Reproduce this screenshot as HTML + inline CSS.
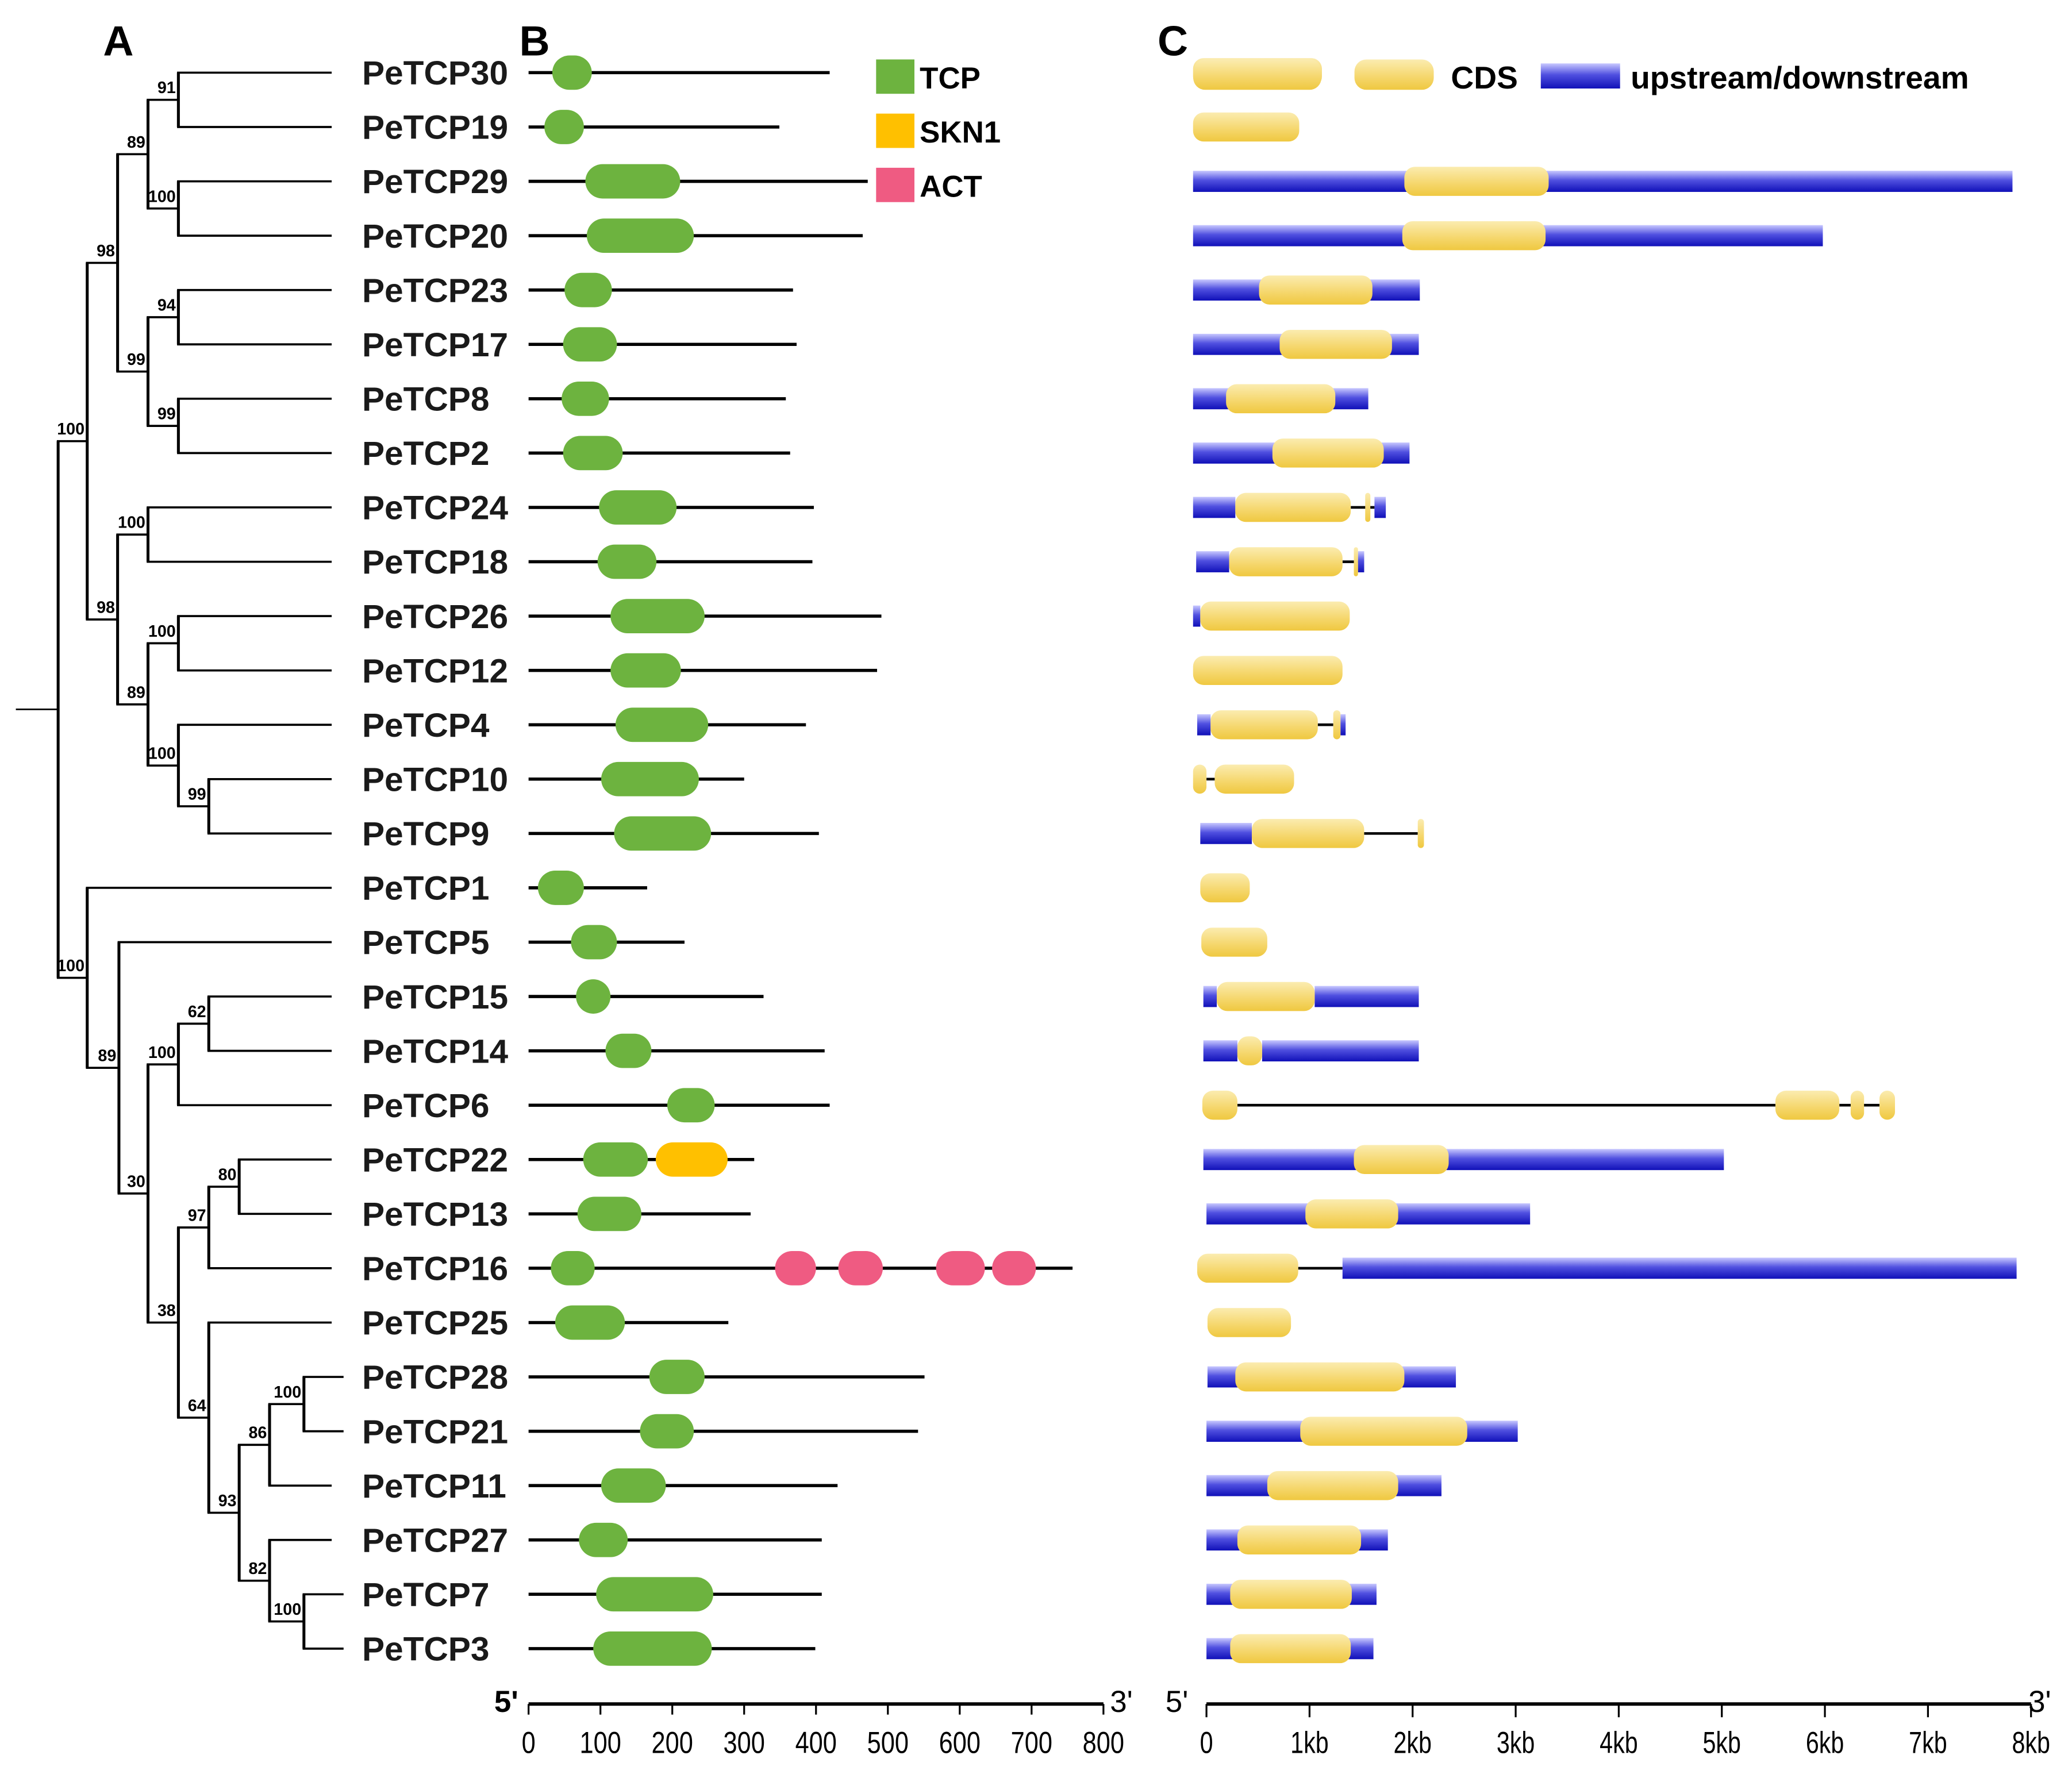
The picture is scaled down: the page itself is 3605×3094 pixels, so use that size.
<!DOCTYPE html>
<html><head><meta charset="utf-8"><title>PeTCP phylogeny, domains and gene structure</title>
<style>html,body{margin:0;padding:0;background:#fff}svg{display:block}text{font-family:"Liberation Sans",sans-serif}</style></head>
<body>
<svg id="fig" width="3605" height="3094" viewBox="0 0 1568 1346" preserveAspectRatio="none" xmlns="http://www.w3.org/2000/svg">
<defs>
<linearGradient id="gBlue" x1="0" y1="0" x2="0" y2="1"><stop offset="0" stop-color="#c8c8ff"/><stop offset="0.45" stop-color="#5050e0"/><stop offset="1" stop-color="#1010b8"/></linearGradient>
<linearGradient id="gYel" x1="0" y1="0" x2="0" y2="1"><stop offset="0" stop-color="#fbecb0"/><stop offset="0.6" stop-color="#f5d66a"/><stop offset="1" stop-color="#efc840"/></linearGradient>
</defs>
<g id="tree"></g>
<g id="labels"></g>
<g id="panelB"></g>
<g id="panelC"></g>
<text x="78" y="42" font-size="32" font-weight="bold">A</text>
<text x="393" y="42" font-size="32" font-weight="bold">B</text>
<text x="876" y="42" font-size="32" font-weight="bold">C</text>
<g>
<rect x="663" y="45" width="29" height="26" fill="#6db33f"/>
<text x="696" y="67" font-size="23" font-weight="bold">TCP</text>
<rect x="663" y="86" width="29" height="26" fill="#ffc000"/>
<text x="696" y="108" font-size="23" font-weight="bold">SKN1</text>
<rect x="663" y="127" width="29" height="26" fill="#ef5b82"/>
<text x="696" y="149" font-size="23" font-weight="bold">ACT</text>
</g>
<g>
<rect x="903" y="45" width="97" height="23" rx="9" fill="url(#gYel)"/>
<rect x="1025" y="45" width="60" height="23" rx="9" fill="url(#gYel)"/>
<text x="1098" y="67" font-size="24" font-weight="bold">CDS</text>
<rect x="1166" y="48" width="60" height="19" fill="url(#gBlue)"/>
<text x="1234" y="67" font-size="24" font-weight="bold">upstream/downstream</text>
</g>
</svg>
<script>
const NS="http://www.w3.org/2000/svg";
const genes=["PeTCP30","PeTCP19","PeTCP29","PeTCP20","PeTCP23","PeTCP17","PeTCP8","PeTCP2","PeTCP24","PeTCP18","PeTCP26","PeTCP12","PeTCP4","PeTCP10","PeTCP9","PeTCP1","PeTCP5","PeTCP15","PeTCP14","PeTCP6","PeTCP22","PeTCP13","PeTCP16","PeTCP25","PeTCP28","PeTCP21","PeTCP11","PeTCP27","PeTCP7","PeTCP3"];
const proteinLength=[419,349,472,465,368,373,358,364,397,395,491,485,386,300,404,165,217,327,412,419,314,309,757,278,551,542,430,408,408,399];
const tcpStart=[33,22,79,81,50,48,46,48,98,96,114,114,121,101,119,13,59,66,107,193,76,68,31,37,168,155,101,70,94,90];
const tcpEnd=[88,77,211,230,116,123,112,131,206,178,245,212,250,237,254,77,123,114,171,259,166,157,92,134,245,230,191,138,257,255];
const skn1Domains=[[20,177,277]];
const actDomains=[[22,343,400],[22,431,493],[22,567,635],[22,645,706]];
const proteinTicks=[0,100,200,300,400,500,600,700,800];
// gene structure: [type, startKb, endKb]  B=upstream/downstream, Y=CDS, L=intron line
const structures=[
[["Y",-0.13,1.12]],
[["Y",-0.13,0.90]],
[["B",-0.13,7.82],["Y",1.92,3.32]],
[["B",-0.13,5.98],["Y",1.90,3.29]],
[["B",-0.13,2.07],["Y",0.51,1.61]],
[["B",-0.13,2.06],["Y",0.71,1.80]],
[["B",-0.13,1.57],["Y",0.19,1.25]],
[["B",-0.13,1.97],["Y",0.64,1.72]],
[["B",-0.13,0.28],["Y",0.28,1.40],["L",1.40,1.63],["Y",1.54,1.59],["B",1.63,1.74]],
[["B",-0.10,0.22],["Y",0.22,1.32],["L",1.32,1.47],["Y",1.43,1.47],["B",1.47,1.53]],
[["B",-0.13,-0.06],["Y",-0.06,1.39]],
[["Y",-0.13,1.32]],
[["B",-0.09,0.04],["Y",0.04,1.08],["L",1.08,1.23],["Y",1.23,1.30],["B",1.30,1.35]],
[["Y",-0.13,0.00],["L",0.00,0.08],["Y",0.08,0.85]],
[["B",-0.06,0.44],["Y",0.44,1.53],["L",1.53,2.05],["Y",2.05,2.11]],
[["Y",-0.06,0.42]],
[["Y",-0.05,0.59]],
[["B",-0.03,0.10],["Y",0.10,1.05],["B",1.05,2.06]],
[["B",-0.03,0.30],["Y",0.30,0.54],["B",0.54,2.06]],
[["Y",-0.04,0.30],["L",0.30,5.52],["Y",5.52,6.14],["L",6.14,6.53],["Y",6.25,6.38],["Y",6.53,6.68]],
[["B",-0.03,5.02],["Y",1.43,2.35]],
[["B",0.00,3.14],["Y",0.96,1.86]],
[["Y",-0.09,0.89],["L",0.89,1.32],["B",1.32,7.86]],
[["Y",0.01,0.82]],
[["B",0.01,2.42],["Y",0.28,1.92]],
[["B",0.00,3.02],["Y",0.91,2.53]],
[["B",0.00,2.28],["Y",0.59,1.86]],
[["B",0.00,1.76],["Y",0.30,1.50]],
[["B",0.00,1.65],["Y",0.23,1.41]],
[["B",0.00,1.62],["Y",0.23,1.40]]
];
const kbTicks=["0","1kb","2kb","3kb","4kb","5kb","6kb","7kb","8kb"];
const bootstrapValues=[91,100,89,94,99,99,98,100,100,99,100,89,98,100,62,100,80,97,100,86,100,82,93,64,38,30,89,100];

const rowY=i=>55+41.14*i;
const xB=v=>400+v*0.5438;
const xC=v=>913+v*78.0;
function el(tag,attrs,parent){const e=document.createElementNS(NS,tag);for(const k in attrs)e.setAttribute(k,attrs[k]);parent.appendChild(e);return e;}

// ----- tree -----
const tree=document.getElementById('tree');
const nodes={
 a:[135,'r0','r1',0], b:[135,'r2','r3',1], c:[112,'a','b',2],
 d:[135,'r4','r5',3], e:[135,'r6','r7',4], f:[112,'d','e',5], g:[89,'c','f',6],
 h:[112,'r8','r9',7], i:[135,'r10','r11',8], j:[158,'r13','r14',9], k:[135,'r12','j',10], l:[112,'i','k',11], m:[89,'h','l',12], G:[66,'g','m',13],
 n:[158,'r17','r18',14], o:[135,'n','r19',15], p:[181,'r20','r21',16], q:[158,'p','r22',17],
 s:[230,'r24','r25',18], t:[204,'s','r26',19], u:[230,'r28','r29',20], v:[204,'r27','u',21], w:[181,'t','v',22], x:[158,'r23','w',23],
 y:[135,'q','x',24], z:[112,'o','y',25], A:[90,'r16','z',26], B:[66,'r15','A',27]
};
const leafEnd=[251,251,251,251,251,251,251,251,251,251,251,251,251,251,251,251,251,251,251,251,251,251,251,251,260,260,251,251,260,260];
const memo={};
function nodeY(id){
 if(id[0]==='r')return rowY(+id.slice(1));
 if(memo[id]!==undefined)return memo[id];
 const n=nodes[id];memo[id]=(nodeY(n[1])+nodeY(n[2]))/2;return memo[id];
}
function drawNode(id){
 const n=nodes[id];const x=n[0];
 const ya=nodeY(n[1]),yb=nodeY(n[2]);
 const v=el('line',{x1:x,y1:ya,x2:x,y2:yb,stroke:'#000','stroke-width':2.2},tree);
 
 
 [n[1],n[2]].forEach(c=>{
  const cy=nodeY(c);
  const cx2=c[0]==='r'?leafEnd[+c.slice(1)]:nodes[c][0];
  const h=el('line',{x1:x-1,y1:cy,x2:cx2,y2:cy,stroke:'#000','stroke-width':1.6},tree);
  
  
  if(c[0]!=='r'){drawNode(c);}
 });
 const t=el('text',{x:x-2,y:(ya+yb)/2-5,'font-size':12.5,'font-weight':'bold','text-anchor':'end'},tree);
 t.textContent=bootstrapValues[n[3]];
 
 
}
(function(){
 const yg=nodeY('G'),yB=nodeY('B');
 const v=el('line',{x1:44,y1:yg,x2:44,y2:yB,stroke:'#000','stroke-width':2.2},tree);
 
 
 [['G',yg],['B',yB]].forEach(([c,cy])=>{
  const h=el('line',{x1:43,y1:cy,x2:66,y2:cy,stroke:'#000','stroke-width':1.6},tree);
  
  
  drawNode(c);
 });
 const r=el('line',{x1:12,y1:537,x2:44,y2:537,stroke:'#000','stroke-width':1.2},tree);
 
 
})();

// ----- labels -----
const lab=document.getElementById('labels');
genes.forEach((g,i)=>{
 const t=el('text',{x:274,y:rowY(i)+9,'font-size':25.5,'font-weight':'bold',fill:'#1a1a1a'},lab);
 t.textContent=g;
 
 
});

// ----- panel B -----
const pb=document.getElementById('panelB');
genes.forEach((g,i)=>{
 const y=rowY(i);
 const l=el('line',{x1:xB(0),y1:y,x2:xB(proteinLength[i]),y2:y,stroke:'#000','stroke-width':2.4},pb);
 
 
 const r=el('rect',{x:xB(tcpStart[i]),y:y-13,width:xB(tcpEnd[i])-xB(tcpStart[i]),height:26,rx:13,fill:'#6db33f'},pb);
 
 
});
skn1Domains.forEach(d=>{
 const y=rowY(d[0]);
 const r=el('rect',{x:xB(d[1]),y:y-13,width:xB(d[2])-xB(d[1]),height:26,rx:13,fill:'#ffc000'},pb);
 
 
});
actDomains.forEach(d=>{
 const y=rowY(d[0]);
 const r=el('rect',{x:xB(d[1]),y:y-13,width:xB(d[2])-xB(d[1]),height:26,rx:13,fill:'#ef5b82'},pb);
 
 
});
(function(){
 const ax=el('line',{x1:xB(0),y1:1290,x2:xB(800),y2:1290,stroke:'#000','stroke-width':2.6},pb);
 
 
 proteinTicks.forEach(v=>{
  const tk=el('line',{x1:xB(v),y1:1290,x2:xB(v),y2:1298,stroke:'#000','stroke-width':1.4},pb);
  
  
  const t=el('text',{x:xB(v),y:1327,'font-size':23,'text-anchor':'middle',transform:`translate(${xB(v)},0) scale(0.82,1) translate(${-xB(v)},0)`},pb);
  t.textContent=v;
  
  
 });
 const a=el('text',{x:374,y:1296,'font-size':23,'font-weight':'bold'},pb);a.textContent="5'";
 
 
 const b=el('text',{x:840,y:1296,'font-size':23},pb);b.textContent="3'";
 
 
})();

// ----- panel C -----
const pc=document.getElementById('panelC');
structures.forEach((segs,i)=>{
 const y=rowY(i);
 const order=['L','B','Y'];
 order.forEach(tp=>segs.filter(s=>s[0]===tp).forEach(s=>{
  const x1=xC(s[1]),x2=xC(s[2]);
  let e;
  if(tp==='L'){e=el('line',{x1:x1,y1:y,x2:x2,y2:y,stroke:'#000','stroke-width':2},pc);}
  else if(tp==='B'){e=el('rect',{x:x1,y:y-8,width:x2-x1,height:16,fill:'url(#gBlue)'},pc);}
  else{e=el('rect',{x:x1,y:y-11,width:Math.max(x2-x1,3),height:22,rx:Math.min(8,(x2-x1)/2),fill:'url(#gYel)'},pc);}
  
 }));
});
(function(){
 const ax=el('line',{x1:xC(0),y1:1290,x2:xC(8),y2:1290,stroke:'#000','stroke-width':2.6},pc);
 
 
 kbTicks.forEach((lbl,k)=>{
  const tk=el('line',{x1:xC(k),y1:1290,x2:xC(k),y2:1300,stroke:'#000','stroke-width':1.4},pc);
  
  
  const t=el('text',{x:xC(k),y:1327,'font-size':23,'text-anchor':'middle',transform:`translate(${xC(k)},0) scale(0.78,1) translate(${-xC(k)},0)`},pc);
  t.textContent=lbl;
  
  
 });
 const a=el('text',{x:882,y:1296,'font-size':23},pc);a.textContent="5'";
 
 
 const b=el('text',{x:1535,y:1296,'font-size':23},pc);b.textContent="3'";
 
 
})();
</script>
</body></html>
